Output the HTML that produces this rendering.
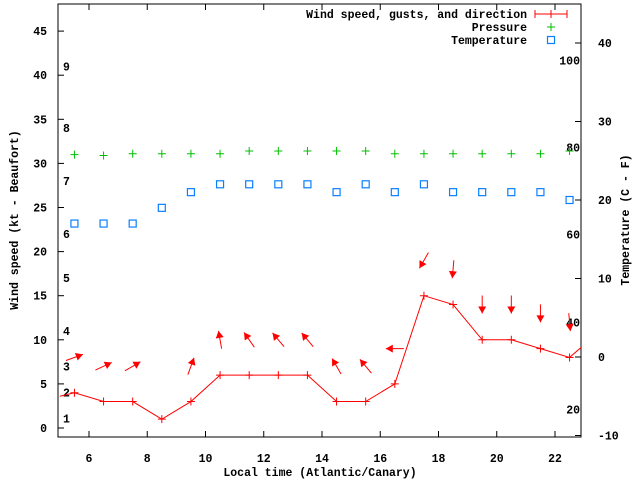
<!DOCTYPE html>
<html><head><meta charset="utf-8"><style>
body{margin:0;background:#fff}
svg text{font-family:"Liberation Mono",monospace;font-weight:bold;font-size:11.5px;fill:#000}
</style></head><body>
<svg id="c" width="640" height="480" xmlns="http://www.w3.org/2000/svg"></svg>
<script>
const hours=[5.5,6.5,7.5,8.5,9.5,10.5,11.5,12.5,13.5,14.5,15.5,16.5,17.5,18.5,19.5,20.5,21.5,22.5];
const windLineX=[5,5.5,6.5,7.5,8.5,9.5,10.5,11.5,12.5,13.5,14.5,15.5,16.5,17.5,18.5,19.5,20.5,21.5,22.5,23.2];
const windLine=[3.6,4,3,3,1,3,6,6,6,6,3,3,5,15,14,10,10,9,8,10];
const windSpeed=[4,3,3,1,3,6,6,6,6,3,3,5,15,14,10,10,9,8];
const arrowKt=[8,7,7,null,7,10,10,10,10,7,7,9,19,18,14,14,13,12];
const arrowDir=[70,65,60,null,20,-10,-35,-40,-40,-30,-40,-90,-150,-175,180,180,180,175];
const pressure=[31.0,30.9,31.1,31.1,31.1,31.1,31.4,31.4,31.4,31.4,31.4,31.1,31.1,31.1,31.1,31.1,31.1,31.4];
const temperature=[17,17,17,19,21,22,22,22,22,21,22,21,22,21,21,21,21,20];
const xTicks=[6,8,10,12,14,16,18,20,22];
const yTicks=[0,5,10,15,20,25,30,35,40,45];
const tTicks=[-10,0,10,20,30,40];
const beaufort=["1","2","3","4","5","6","7","8","9"];
const beaufortKt=[1.1,4,7,11,17,22,28,34,41];
const fLabels=["20","40","60","80","100"];
const fC=[-6.7,4.4,15.6,26.7,37.8];

const L=58,R=581,T=4,B=437;
const px=h=>89+(h-6)*29.125;
const py=k=>428-k*8.82;
const pt=c=>357-c*7.85;
const svg=document.getElementById('c');
const NS='http://www.w3.org/2000/svg';
function mk(tag,attrs,parent){const e=document.createElementNS(NS,tag);for(const k in attrs)e.setAttribute(k,attrs[k]);(parent||svg).appendChild(e);return e;}
function txt(x,y,s,anchor,name,parent){const t=mk('text',{x:x,y:y,'text-anchor':anchor||'start'},parent);t.textContent=s;return t;}

const defs=mk('defs',{});
const cp=mk('clipPath',{id:'clip'},defs);mk('rect',{x:L,y:T,width:R-L,height:B-T},cp);

// axes
const frame=mk('rect',{x:L,y:T,width:R-L,height:B-T,fill:'none',stroke:'#000','stroke-width':1});

xTicks.forEach(h=>{const x=px(h);mk('line',{x1:x,y1:B,x2:x,y2:B-6,stroke:'#000'});mk('line',{x1:x,y1:T,x2:x,y2:T+6,stroke:'#000'});txt(x,462,String(h),'middle','x-tick-label');});
yTicks.forEach(k=>{const y=py(k);mk('line',{x1:L,y1:y,x2:L+6,y2:y,stroke:'#000'});txt(47,y+4,String(k),'end','y-tick-label');});
tTicks.forEach(c=>{const y=pt(c);mk('line',{x1:R,y1:y,x2:R-6,y2:y,stroke:'#000'});txt(598,y+4,String(c),'start','temp-tick-label');});
beaufort.forEach((b,i)=>txt(63,py(beaufortKt[i])+4,b,'start','beaufort-label'));
fLabels.forEach((f,i)=>txt(580,pt(fC[i])+4,f,'end','fahrenheit-label'));

// axis titles
let t=txt(0,0,'Wind speed (kt - Beaufort)','middle','y-axis-title');t.setAttribute('transform','translate(18,220) rotate(-90)');
t=txt(0,0,'Temperature (C - F)','middle','y2-axis-title');t.setAttribute('transform','translate(629,220) rotate(-90)');
txt(320,476,'Local time (Atlantic/Canary)','middle','x-axis-title');

const g=mk('g',{'clip-path':'url(#clip)'});
// wind line
const line=mk('polyline',{points:windLineX.map((h,i)=>px(h)+','+py(windLine[i])).join(' '),fill:'none',stroke:'#f00','stroke-width':1},g);

windSpeed.forEach((k,i)=>{const x=px(hours[i]),y=py(k);const p=mk('path',{d:`M${x-4},${y}h8M${x},${y-4}v8`,stroke:'#f00'},g);});
// arrows
arrowKt.forEach((k,i)=>{if(k===null)return;const cx=px(hours[i]),cy=py(k);const a=arrowDir[i]*Math.PI/180;const dx=Math.sin(a),dy=-Math.cos(a);const len=18;
const x1=cx-dx*len/2,y1=cy-dy*len/2,x2=cx+dx*len/2,y2=cy+dy*len/2;
const gr=mk('g',{},g);
mk('line',{x1:x1,y1:y1,x2:x2,y2:y2,stroke:'#f00'},gr);
const nx=-dy,ny=dx;const bx=x2-dx*7,by=y2-dy*7;
mk('polygon',{points:`${x2},${y2} ${bx+nx*4},${by+ny*4} ${bx-nx*4},${by-ny*4}`,fill:'#f00'},gr);});
// pressure
pressure.forEach((p,i)=>{const x=px(hours[i]),y=py(p);const e=mk('path',{d:`M${x-4},${y}h8M${x},${y-4}v8`,stroke:'#00c000'},g);});
// temperature
temperature.forEach((c,i)=>{const x=px(hours[i]),y=pt(c);const e=mk('rect',{x:x-3.5,y:y-3.5,width:7,height:7,fill:'none',stroke:'#0a7fff','stroke-width':1.2},g);});

// legend
const lg=mk('g',{});
txt(527,18,'Wind speed, gusts, and direction','end','legend-wind',lg);
mk('path',{d:'M535,14h32M535,10v8M567,10v8M551,10v8',stroke:'#f00'},lg);
txt(527,31,'Pressure','end','legend-pressure',lg);
mk('path',{d:'M547,27h8M551,23v8',stroke:'#00c000'},lg);
txt(527,44,'Temperature','end','legend-temperature',lg);
mk('rect',{x:547.5,y:36.5,width:7,height:7,fill:'none',stroke:'#0a7fff','stroke-width':1.2},lg);
</script>
</body></html>
